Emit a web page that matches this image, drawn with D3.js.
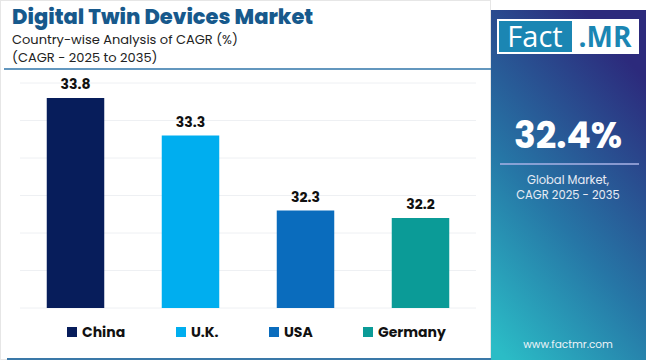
<!DOCTYPE html>
<html>
<head>
<meta charset="utf-8">
<script src="https://cdn.jsdelivr.net/npm/d3@7"></script>
<style>
  body { margin: 0; background: #fff; }
  svg { display: block; font-family: "Poppins", "Inter", "Open Sans", sans-serif; }
</style>
</head>
<body>
<div id="chart"></div>
<script>
const countries = ["China", "U.K.", "USA", "Germany"];
const cagrValues = [33.8, 33.3, 32.3, 32.2];
const barColors = ["#071d5b", "#00aeef", "#0a6cbd", "#0b9b97"];
const gridTicks = [31, 31.5, 32, 32.5, 33, 33.5, 34];

const width = 650;
const height = 360;

const svg = d3.select('#chart')
    .append('svg')
    .attr('width', width)
    .attr('height', height);

// Left border
svg.append('rect')
    .attr('x', 0.5).attr('y', 0.5)
    .attr('width', 490).attr('height', 359)
    .attr('fill', 'none')
    .attr('stroke', '#e6e6e6');

// Title block
svg.append('text')
    .attr('x', 12).attr('y', 24)
    .attr('font-size', 21)
    .attr('font-weight', 800)
    .attr('fill', '#17598c')
    .text('Digital Twin Devices Market');

svg.append('text')
    .attr('x', 12).attr('y', 44)
    .attr('font-size', 13)
    .attr('fill', '#222')
    .text('Country-wise Analysis of CAGR (%)');

svg.append('text')
    .attr('x', 12).attr('y', 62)
    .attr('font-size', 13)
    .attr('fill', '#222')
    .text('(CAGR - 2025 to 2035)');

svg.append('line')
    .attr('x1', 4).attr('x2', 491)
    .attr('y1', 69).attr('y2', 69)
    .attr('stroke', '#2f74a8')
    .attr('stroke-width', 1.5);

// Scales
const xScale = d3.scaleBand()
    .domain(countries)
    .range([18, 478])
    .paddingInner(0.5)
    .paddingOuter(0.25);

const yScale = d3.scaleLinear()
    .domain([31, 34])
    .range([308, 83]);

// Gridlines
svg.append('g')
    .selectAll('line')
    .data(gridTicks)
    .enter()
    .append('line')
    .attr('x1', 20).attr('x2', 476)
    .attr('y1', d => yScale(d)).attr('y2', d => yScale(d))
    .attr('stroke', '#eef0f3')
    .attr('stroke-width', 1);

// Bars
svg.selectAll('.bar')
    .data(countries)
    .enter()
    .append('rect')
    .attr('class', 'bar')
    .attr('x', d => xScale(d))
    .attr('y', (d, i) => yScale(cagrValues[i]))
    .attr('width', xScale.bandwidth())
    .attr('height', (d, i) => yScale(31) - yScale(cagrValues[i]))
    .attr('fill', (d, i) => barColors[i]);

// Value labels
svg.selectAll('.value')
    .data(countries)
    .enter()
    .append('text')
    .attr('class', 'value')
    .attr('x', d => xScale(d) + xScale.bandwidth() / 2)
    .attr('y', (d, i) => yScale(cagrValues[i]) - 9)
    .attr('text-anchor', 'middle')
    .attr('font-size', 14)
    .attr('font-weight', 700)
    .attr('fill', '#111')
    .text((d, i) => cagrValues[i].toFixed(1));

// Legend
const legendX = [67, 176, 269, 363];
const legend = svg.append('g');
countries.forEach((c, i) => {
    legend.append('rect')
        .attr('x', legendX[i]).attr('y', 327)
        .attr('width', 10).attr('height', 10)
        .attr('fill', barColors[i]);
    legend.append('text')
        .attr('x', legendX[i] + 15).attr('y', 337)
        .attr('font-size', 14)
        .attr('font-weight', 700)
        .attr('fill', '#111')
        .text(c);
});

svg.append('line')
    .attr('x1', 7).attr('x2', 491)
    .attr('y1', 359).attr('y2', 359)
    .attr('stroke', '#3a78a8')
    .attr('stroke-width', 2);

// Right panel
const defs = svg.append('defs');
const grad = defs.append('linearGradient')
    .attr('id', 'panelGrad')
    .attr('x1', '0.1').attr('y1', '1')
    .attr('x2', '0.6').attr('y2', '0');
grad.append('stop').attr('offset', '0%').attr('stop-color', '#2bbcc6');
grad.append('stop').attr('offset', '45%').attr('stop-color', '#2676a6');
grad.append('stop').attr('offset', '100%').attr('stop-color', '#2c2a7c');

svg.append('rect')
    .attr('x', 491).attr('y', 10)
    .attr('width', 155).attr('height', 350)
    .attr('fill', 'url(#panelGrad)');

// Logo
svg.append('rect')
    .attr('x', 497).attr('y', 19)
    .attr('width', 142).attr('height', 35)
    .attr('fill', '#fff');
svg.append('rect')
    .attr('x', 499).attr('y', 21)
    .attr('width', 73).attr('height', 31)
    .attr('fill', '#1b86b3');
svg.append('text')
    .attr('x', 535).attr('y', 47)
    .attr('text-anchor', 'middle')
    .attr('font-size', 29)
    .attr('font-family', '"Open Sans", sans-serif')
    .attr('fill', '#fff')
    .text('Fact');
svg.append('text')
    .attr('x', 605).attr('y', 47)
    .attr('text-anchor', 'middle')
    .attr('font-size', 28)
    .attr('font-weight', 700)
    .attr('font-family', '"Open Sans", sans-serif')
    .attr('fill', '#1b86b3')
    .text('.MR');

svg.append('text')
    .attr('x', 568).attr('y', 148)
    .attr('text-anchor', 'middle')
    .attr('font-size', 36)
    .attr('font-weight', 700)
    .attr('fill', '#fff')
    .text('32.4%');

svg.append('line')
    .attr('x1', 500).attr('x2', 639)
    .attr('y1', 164).attr('y2', 164)
    .attr('stroke', '#a9b2e6')
    .attr('stroke-width', 1.5);

svg.append('text')
    .attr('x', 568).attr('y', 184)
    .attr('text-anchor', 'middle')
    .attr('font-size', 11.5)
    .attr('fill', '#e8ecf5')
    .text('Global Market,');
svg.append('text')
    .attr('x', 568).attr('y', 199)
    .attr('text-anchor', 'middle')
    .attr('font-size', 11.5)
    .attr('fill', '#e8ecf5')
    .text('CAGR 2025 - 2035');

svg.append('text')
    .attr('x', 568).attr('y', 348)
    .attr('text-anchor', 'middle')
    .attr('font-size', 10.5)
    .attr('fill', '#eef3f8')
    .text('www.factmr.com');
</script>
</body>
</html>
